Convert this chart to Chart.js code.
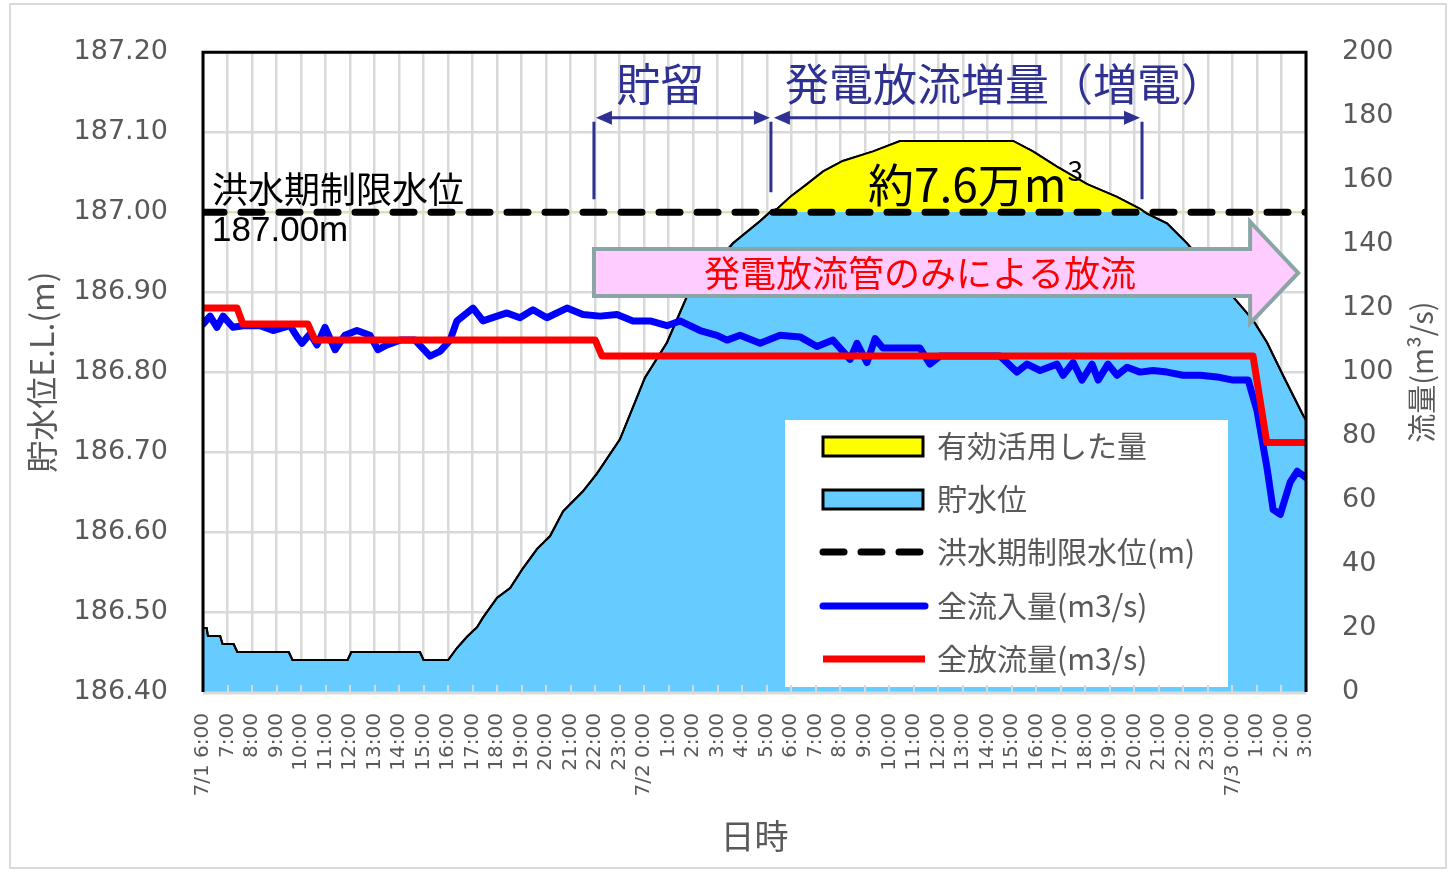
<!DOCTYPE html>
<html>
<head>
<meta charset="utf-8">
<script src="https://cdn.jsdelivr.net/npm/chart.js@4.4.1/dist/chart.umd.min.js"></script>
<style>
html,body{margin:0;padding:0;background:#fff;}
canvas{display:block;}
</style>
</head>
<body>
<canvas id="c" width="1451" height="872"></canvas>
<script>
// ---------- data ----------
const TIME_LABELS = ['7/1 6:00','7:00','8:00','9:00','10:00','11:00','12:00','13:00','14:00','15:00','16:00','17:00','18:00','19:00','20:00','21:00','22:00','23:00',
  '7/2 0:00','1:00','2:00','3:00','4:00','5:00','6:00','7:00','8:00','9:00','10:00','11:00','12:00','13:00','14:00','15:00','16:00','17:00','18:00','19:00','20:00','21:00','22:00','23:00',
  '7/3 0:00','1:00','2:00','3:00'];

// hours elapsed since 7/1 6:00
const LEVEL_HOURS = [0,0.15,0.2,0.7,0.8,1.25,1.4,3.5,3.65,5.9,6.05,8.85,9.0,10.0,10.36,10.77,11.18,11.42,12.0,12.53,13.06,13.63,14.16,14.69,15.5,16.07,17.01,18.03,18.93,19.75,21.62,22.73,23.13,23.42,23.95,24.64,25.3,26.1,27.34,28.44,33.05,33.86,34.84,36.07,37.29,38.23,38.52,39.33,40.15,42.84,43.41,44.06,44.47,44.88,45.0];
const LEVEL_VALUES = [186.48,186.48,186.47,186.47,186.46,186.46,186.45,186.45,186.44,186.44,186.45,186.45,186.44,186.44,186.455,186.469,186.481,186.493,186.518,186.530,186.555,186.579,186.595,186.626,186.651,186.673,186.716,186.793,186.837,186.895,186.961,186.989,187.0,187.004,187.019,187.035,187.051,187.064,187.076,187.089,187.089,187.076,187.057,187.035,187.019,187.004,186.998,186.986,186.961,186.865,186.837,186.796,186.771,186.746,186.74];

const LIMIT_HOURS = [0, 45];
const LIMIT_VALUES = [187.00, 187.00];

const INFLOW_HOURS = [0,0.29,0.57,0.82,1.22,1.63,2.33,2.86,3.55,3.84,4.04,4.37,4.65,4.98,5.39,5.79,6.28,6.81,7.14,7.51,8.04,8.65,9.26,9.67,10.08,10.36,11.02,11.42,12.0,12.4,12.93,13.46,14.03,14.85,15.5,16.2,16.89,17.54,18.24,18.93,19.46,20.28,20.97,21.38,21.91,22.73,23.54,24.36,25.05,25.7,26.4,26.68,27.09,27.42,27.74,28.15,29.25,29.66,30.07,30.89,31.7,32.52,33.21,33.62,34.15,34.84,35.09,35.5,35.86,36.27,36.52,36.92,37.29,37.7,38.23,38.76,39.33,39.98,40.68,41.37,42.02,42.64,43.0,43.41,43.66,43.95,44.35,44.64,45.0];
const INFLOW_VALUES = [115,117.5,114,117.5,114,114.5,114.5,113,114.5,111,109,112,108.5,114,107,111.5,113,111.5,107,108.5,110,110,105,106.5,110,116,120,116,117.5,118.5,117,119.5,117,120,118,117.5,118,116,116,114.5,116,113,111.5,110,111.5,109,111.5,111,108,110,104,109,103,110.5,107.5,107.5,107.5,102.5,105,105,105,105,100,102.5,100.5,102.5,99,103,97.5,102.5,97.5,102.5,99,101.5,100,100.5,100,99,99,98.5,97.5,97.5,88,70,57,55.5,65.5,69,67];

const OUTFLOW_HOURS = [0,1.39,1.63,4.28,4.57,16.0,16.28,42.84,43.4,45];
const OUTFLOW_VALUES = [120,120,115,115,110,110,105,105,78,78];

const SERIES_NAMES = ['有効活用した量','貯水位','洪水期制限水位(m)','全流入量(m3/s)','全放流量(m3/s)'];
const LEFT_TITLE = '貯水位E.L.(m)';
const RIGHT_TITLE = '流量(m³/s)';
const X_TITLE = '日時';

// annotation anchors (hours / levels)
const STORE_START_H = 15.95, GEN_START_H = 23.17, GEN_END_H = 38.31;

// ---------- helpers ----------
const pts = (xs, ys) => xs.map((h, i) => ({x: h, y: ys[i]}));
const GRAY = '#595959';
const NAVY = '#2E3192';
const JP = '"Noto Sans CJK JP", "Noto Sans", sans-serif';

function arrowHead(ctx, x, y, dir) {
  ctx.beginPath();
  ctx.moveTo(x, y);
  ctx.lineTo(x - dir * 16, y - 7);
  ctx.lineTo(x - dir * 16, y + 7);
  ctx.closePath();
  ctx.fill();
}

const overlay = {
  id: 'overlay',
  beforeDraw(chart) {
    const ctx = chart.ctx;
    ctx.save();
    ctx.fillStyle = '#fff';
    ctx.fillRect(0, 0, chart.width, chart.height);
    ctx.strokeStyle = '#d9d9d9';
    ctx.lineWidth = 2;
    ctx.strokeRect(10, 4, chart.width - 15, chart.height - 8);
    ctx.restore();
  },
  afterDatasetsDraw(chart) {
    const ctx = chart.ctx;
    const {left, right, bottom} = chart.chartArea;
    ctx.save();
    ctx.strokeStyle = '#d9d9d9';
    ctx.lineWidth = 3;
    ctx.beginPath(); ctx.moveTo(left, bottom + 1); ctx.lineTo(right, bottom + 1); ctx.stroke();
    ctx.restore();
  },
  afterDraw(chart) {
    const ctx = chart.ctx;
    const xs = chart.scales.x, ys = chart.scales.y, y2 = chart.scales.y2;
    const X = h => xs.getPixelForValue(h);
    const Y = v => ys.getPixelForValue(v);
    const {left, top, right, bottom} = chart.chartArea;
    ctx.save();

    // right axis title (reads bottom-to-top, like the reference)
    ctx.save();
    ctx.translate(y2.right - 29, (top + bottom) / 2);
    ctx.rotate(-Math.PI / 2);
    ctx.fillStyle = GRAY;
    ctx.font = '29px ' + JP;
    ctx.textAlign = 'center'; ctx.textBaseline = 'middle';
    ctx.fillText(RIGHT_TITLE, 0, 0);
    ctx.restore();

    // pink block arrow
    const ax0 = X(STORE_START_H), ax1 = X(42.72), axt = X(44.68);
    const bt = Y(186.954), bb = Y(186.895), ht = Y(186.988), hb = Y(186.861), hm = Y(186.924);
    ctx.beginPath();
    ctx.moveTo(ax0, bt); ctx.lineTo(ax1, bt); ctx.lineTo(ax1, ht); ctx.lineTo(axt, hm);
    ctx.lineTo(ax1, hb); ctx.lineTo(ax1, bb); ctx.lineTo(ax0, bb); ctx.closePath();
    ctx.fillStyle = '#FFCCFF'; ctx.fill();
    ctx.strokeStyle = '#8AA5A5'; ctx.lineWidth = 4; ctx.lineJoin = 'miter'; ctx.stroke();
    ctx.fillStyle = '#FF0000';
    ctx.font = '36px ' + JP;
    ctx.textAlign = 'center'; ctx.textBaseline = 'middle';
    ctx.fillText('発電放流管のみによる放流', X(29.25), hm);

    // period arrows
    ctx.strokeStyle = NAVY; ctx.fillStyle = NAVY; ctx.lineWidth = 3;
    const ay = Y(187.118);
    const vt = Y(187.113);
    ctx.beginPath();
    ctx.moveTo(X(STORE_START_H), vt); ctx.lineTo(X(STORE_START_H), Y(187.016));
    ctx.moveTo(X(GEN_START_H), vt); ctx.lineTo(X(GEN_START_H), Y(187.025));
    ctx.moveTo(X(GEN_END_H), vt); ctx.lineTo(X(GEN_END_H), Y(187.016));
    ctx.stroke();
    const a1 = X(STORE_START_H) + 2, a2 = X(GEN_START_H) - 1, a3 = X(GEN_START_H) + 3, a4 = X(GEN_END_H) - 2;
    ctx.beginPath(); ctx.moveTo(a1 + 10, ay); ctx.lineTo(a2 - 10, ay); ctx.moveTo(a3 + 10, ay); ctx.lineTo(a4 - 10, ay); ctx.stroke();
    arrowHead(ctx, a1, ay, -1); arrowHead(ctx, a2, ay, 1);
    arrowHead(ctx, a3, ay, -1); arrowHead(ctx, a4, ay, 1);
    ctx.textAlign = 'center'; ctx.textBaseline = 'middle';
    ctx.font = '44px ' + JP;
    ctx.fillText('貯留', X(18.65), Y(187.160));
    ctx.font = '44px ' + JP;
    ctx.fillText('発電放流増量（増電）', X(32.72), Y(187.160));

    // volume label
    ctx.fillStyle = '#000';
    ctx.textAlign = 'left';
    ctx.font = '46px ' + JP;
    const vx = X(27.13), vy = Y(187.035);
    ctx.fillText('約7.6万m', vx, vy);
    const w = ctx.measureText('約7.6万m').width;
    ctx.font = '28px ' + JP;
    ctx.fillText('3', vx + w + 1, vy - 14);

    // limit label
    ctx.font = '36px ' + JP;
    ctx.fillText('洪水期制限水位', X(0.37), Y(187.029));
    ctx.font = '35px "Liberation Sans", Arial, sans-serif';
    ctx.fillText('187.00m', X(0.37), Y(186.976));

    // legend
    const LX0 = 785, LY0 = 420, LX1 = 1228, LY1 = 687;
    ctx.fillStyle = '#fff';
    ctx.fillRect(LX0, LY0, LX1 - LX0, LY1 - LY0);
    const ds = chart.data.datasets;
    const rowY = [446, 499, 552, 606, 659];
    ds.forEach((d, i) => {
      const yy = rowY[i];
      if (i < 2) {
        ctx.fillStyle = d.backgroundColor;
        ctx.fillRect(823, yy - 9, 100, 19);
        ctx.strokeStyle = '#000'; ctx.lineWidth = 3; ctx.setLineDash([]);
        ctx.strokeRect(823, yy - 9, 100, 19);
      } else {
        ctx.strokeStyle = d.borderColor; ctx.lineWidth = d.borderWidth;
        ctx.lineCap = d.borderCapStyle || 'butt';
        ctx.setLineDash(d.borderDash || []);
        ctx.beginPath(); ctx.moveTo(823, yy); ctx.lineTo(925, yy); ctx.stroke();
        ctx.setLineDash([]); ctx.lineCap = 'butt';
      }
      ctx.fillStyle = GRAY;
      ctx.font = '30px ' + JP;
      ctx.textAlign = 'left'; ctx.textBaseline = 'middle';
      ctx.fillText(d.label, 937, yy);
    });

    // inside tick marks on category axis
    ctx.strokeStyle = '#d9d9d9'; ctx.lineWidth = 2;
    ctx.beginPath();
    xs.ticks.forEach(t => {
      const px = Math.round(xs.getPixelForValue(t.value));
      ctx.moveTo(px, bottom); ctx.lineTo(px, bottom - 7);
    });
    ctx.stroke();

    // plot frame
    ctx.strokeStyle = '#000'; ctx.lineWidth = 3;
    ctx.beginPath();
    ctx.moveTo(left, bottom); ctx.lineTo(left, top); ctx.lineTo(right, top); ctx.lineTo(right, bottom);
    ctx.stroke();
    ctx.restore();
  }
};

new Chart(document.getElementById('c'), {
  type: 'line',
  data: {
    datasets: [
      {
        label: SERIES_NAMES[0],
        data: pts(LEVEL_HOURS, LEVEL_VALUES),
        yAxisID: 'y',
        borderColor: '#000', borderWidth: 2,
        backgroundColor: '#FFFF00',
        fill: {target: {value: LIMIT_VALUES[0]}, above: '#FFFF00', below: 'rgba(0,0,0,0)'},
        order: 5
      },
      {
        label: SERIES_NAMES[1],
        data: pts(LEVEL_HOURS, LEVEL_VALUES),
        yAxisID: 'y',
        borderColor: '#000', borderWidth: 2,
        backgroundColor: '#66CCFF',
        fill: 'start',
        order: 6
      },
      {
        label: SERIES_NAMES[2],
        data: pts(LIMIT_HOURS, LIMIT_VALUES),
        yAxisID: 'y',
        borderColor: '#000', borderWidth: 7,
        borderDash: [21, 17], borderCapStyle: 'round',
        fill: false,
        order: 3
      },
      {
        label: SERIES_NAMES[3],
        data: pts(INFLOW_HOURS, INFLOW_VALUES),
        yAxisID: 'y2',
        borderColor: '#0000FF', borderWidth: 7,
        borderJoinStyle: 'round', borderCapStyle: 'round',
        fill: false,
        order: 2
      },
      {
        label: SERIES_NAMES[4],
        data: pts(OUTFLOW_HOURS, OUTFLOW_VALUES),
        yAxisID: 'y2',
        borderColor: '#FF0000', borderWidth: 7,
        borderJoinStyle: 'round',
        fill: false,
        order: 1
      }
    ]
  },
  options: {
    responsive: false,
    animation: false,
    devicePixelRatio: 1,
    layout: {padding: {top: 47, left: 0, right: 0, bottom: 0}},
    elements: {point: {radius: 0, hoverRadius: 0}, line: {tension: 0}},
    plugins: {legend: {display: false}, tooltip: {enabled: false}},
    scales: {
      x: {
        type: 'linear', position: 'bottom', min: 0, max: 45,
        ticks: {
          stepSize: 1, autoSkip: false, maxTicksLimit: 100,
          minRotation: 90, maxRotation: 90, padding: 21,
          color: GRAY, font: {family: 'DejaVu Sans', size: 20},
          callback: v => (TIME_LABELS[v] !== undefined ? TIME_LABELS[v] : '')
        },
        grid: {color: '#d9d9d9', lineWidth: 2.5, drawTicks: false},
        border: {display: false},
        title: {display: true, text: X_TITLE, color: GRAY,
          font: {family: 'Noto Sans CJK JP', size: 34, lineHeight: 1.2},
          padding: {top: 0, bottom: 16}},
        afterFit: s => { s.height = 180; }
      },
      y: {
        type: 'linear', position: 'left', min: 186.4, max: 187.2,
        ticks: {stepSize: 0.1, padding: 35, color: GRAY,
          font: {family: 'DejaVu Sans', size: 27},
          callback: v => Number(v).toFixed(2)},
        grid: {color: '#d9d9d9', lineWidth: 2.5, drawTicks: false},
        border: {display: false},
        title: {display: true, text: LEFT_TITLE, color: GRAY,
          font: {family: 'Noto Sans CJK JP', size: 32, lineHeight: 1.2},
          padding: {top: 23, bottom: 0}},
        afterFit: s => { s.width = 203; }
      },
      y2: {
        type: 'linear', position: 'right', min: 0, max: 200,
        ticks: {stepSize: 20, padding: 36, color: GRAY,
          font: {family: 'DejaVu Sans', size: 27}},
        grid: {display: false, drawTicks: false},
        border: {display: false},
        title: {display: false},
        afterFit: s => { s.width = 145; }
      }
    }
  },
  plugins: [overlay]
});
</script>
</body>
</html>
